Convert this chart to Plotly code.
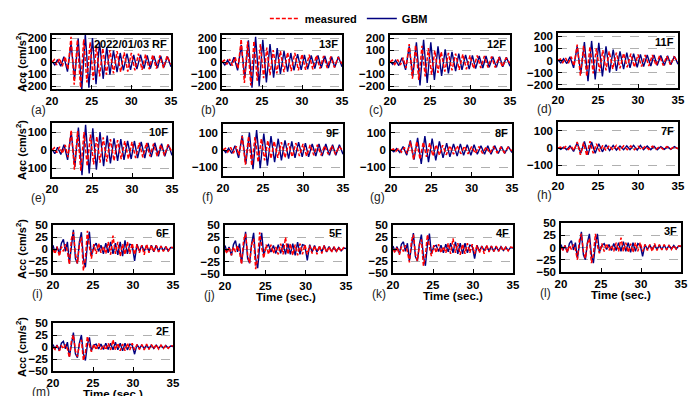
import plotly.graph_objects as go

# ---------------- data ----------------
# time vertices for upper floors
t_gbm = [20.0, 20.35, 20.7, 21.1, 21.5, 21.95, 22.4, 22.85, 23.3, 23.75, 24.2, 24.65,
         25.1, 25.55, 26.0, 26.45, 26.9, 27.3, 27.75, 28.2, 28.6, 29.0, 29.45, 29.9,
         30.3, 30.7, 31.15, 31.6, 32.0, 32.4, 32.85, 33.3, 33.7, 34.1, 34.55, 35.0]
t_meas = [20.0, 20.3, 20.6, 20.95, 21.3, 21.65, 22.0, 22.4, 22.8, 23.2, 23.6, 24.0,
          24.4, 24.8, 25.2, 25.6, 26.0, 26.4, 26.85, 27.3, 27.75, 28.2, 28.65, 29.1,
          29.55, 30.0, 30.45, 30.9, 31.35, 31.8, 32.25, 32.7, 33.15, 33.6, 34.05, 34.5, 35.0]
# time vertices for lower floors
t_low = [20.0, 20.25, 20.5, 20.8, 21.05, 21.3, 21.55, 21.8, 22.05, 22.3, 22.55, 22.8,
         23.05, 23.3, 23.55, 23.8, 24.05, 24.3, 24.55, 24.8, 25.1, 25.4, 25.7, 26.0,
         26.3, 26.6, 26.9, 27.2, 27.5, 27.8, 28.1, 28.4, 28.7, 29.0, 29.3, 29.6, 29.9,
         30.2, 30.5, 30.8, 31.1, 31.4, 31.7, 32.0, 32.3, 32.6, 32.9, 33.2, 33.5, 33.8,
         34.1, 34.4, 34.7, 35.0]

gbm_RF = [5, -25, 20, -35, 45, -80, 150, -140, 195, -235, 230, -215, 200, -185, 165, -140, 125, -105,
          95, -85, 75, -70, 70, -65, 60, -60, 60, -55, 55, -55, 50, -50, 50, -45, 45, -40]
gbm_13F = [5, -25, 15, -30, 40, -70, 140, -130, 180, -215, 210, -200, 185, -170, 150, -130, 115, -100,
           90, -80, 75, -70, 65, -65, 60, -60, 55, -55, 55, -50, 50, -50, 45, -45, 45, -40]
gbm_12F = [5, -20, 15, -30, 35, -65, 130, -120, 165, -195, 185, -175, 165, -150, 130, -115, 105, -95,
           85, -75, 70, -65, 60, -60, 55, -55, 50, -50, 50, -45, 45, -45, 45, -40, 40, -35]
gbm_11F = [5, -20, 15, -25, 30, -60, 115, -110, 150, -170, 160, -155, 145, -130, 115, -100, 90, -85,
           75, -70, 65, -60, 55, -55, 50, -50, 45, -45, 45, -40, 40, -40, 40, -35, 35, -30]
gbm_10F = [5, -20, 15, -25, 30, -55, 100, -95, 125, -140, 140, -130, 120, -110, 100, -90, 80, -75,
           65, -60, 60, -55, 50, -50, 50, -45, 45, -45, 40, -40, 40, -35, 35, -35, 30, -30]
gbm_9F = [5, -15, 10, -20, 25, -45, 85, -80, 100, -110, 115, -105, 95, -90, 80, -70, 65, -60,
          55, -50, 50, -45, 45, -40, 40, -40, 35, -35, 35, -35, 35, -30, 30, -30, 30, -25]
gbm_8F = [3, -10, 8, -15, 20, -30, 55, -55, 70, -80, 80, -70, 65, -60, 50, -45, 40, -40,
          35, -35, 35, -30, 30, -30, 30, -25, 25, -25, 25, -25, 25, -20, 20, -20, 20, -15]
gbm_7F = [3, -8, 5, -10, 12, -20, 30, -30, 38, -40, 35, -30, 25, -22, 18, -15, 15, -12,
          12, -10, 12, -10, 15, -12, 15, -10, 12, -10, 10, -10, 8, -8, 8, -8, 8, -5]

meas_RF = [0, 20, -25, 30, -35, 45, -60, 210, -190, 185, -215, 190, -170, 165, -150, 135, -120, 115,
           -105, 100, -95, 90, -85, 80, -80, 75, -70, 70, -65, 65, -60, 60, -55, 55, -50, 50, -20]
meas_13F = [0, 15, -20, 25, -30, 40, -55, 190, -175, 170, -195, 175, -155, 150, -135, 120, -110, 100,
            -95, 90, -85, 80, -75, 75, -70, 65, -65, 60, -60, 55, -55, 50, -50, 45, -45, 40, -15]
meas_12F = [0, 15, -20, 20, -25, 35, -50, 150, -140, 140, -150, 135, -120, 115, -105, 95, -90, 85,
            -80, 75, -70, 70, -65, 65, -60, 55, -55, 55, -50, 50, -45, 45, -45, 40, -40, 35, -10]
meas_11F = [0, 12, -18, 20, -22, 30, -45, 130, -125, 120, -130, 115, -105, 100, -90, 85, -80, 75,
            -70, 65, -65, 60, -55, 55, -55, 50, -50, 45, -45, 45, -40, 40, -40, 35, -35, 30, -10]
meas_10F = [0, 12, -15, 18, -20, 28, -40, 110, -110, 105, -115, 100, -90, 85, -80, 75, -70, 70,
            -65, 60, -60, 55, -50, 50, -50, 45, -45, 40, -40, 40, -35, 35, -35, 30, -30, 30, -10]
meas_9F = [0, 10, -12, 15, -18, 22, -30, 80, -85, 80, -90, 75, -70, 65, -60, 55, -50, 50,
           -45, 45, -45, 40, -40, 40, -35, 35, -35, 30, -30, 30, -30, 25, -25, 25, -25, 20, -5]
meas_8F = [0, 6, -8, 10, -12, 15, -20, 50, -55, 50, -55, 45, -40, 40, -35, 30, -30, 28,
           -28, 25, -25, 25, -22, 22, -22, 20, -20, 20, -20, 18, -18, 18, -15, 15, -15, 15, -5]
meas_7F = [0, 5, -5, 8, -8, 10, -15, 35, -40, 30, -45, 40, -30, 25, -20, 15, -15, 15,
           -12, 15, -12, 12, -10, 12, -10, 10, -10, 10, -8, 10, -8, 8, -8, 8, -6, 6, -3]

gbm_6F = [8, -8, 5, -10, 12, 20, -5, 15, -30, 10, 40, -20, -30, 15, 35, -20, -38, 10, 36, -15,
          5, 12, -5, 8, -10, 12, -8, 15, -10, 12, -12, 15, -15, 18, -10, 10, 8, -25, 10, -5,
          8, -5, 8, -5, 8, -6, 8, -5, 6, -4, 5, -4, 3, 2]
gbm_5F = [8, -5, 5, -12, 10, 18, -5, 12, -28, 8, 36, -18, -28, 12, 34, -18, -38, 8, 34, -12,
          5, 10, -5, 8, -8, 10, -8, 12, -10, 12, -10, 12, -12, 15, -10, 10, 8, -22, 10, -5,
          8, -5, 6, -5, 8, -5, 6, -4, 5, -4, 4, -3, 3, 2]
gbm_4F = [6, -5, 5, -10, 10, 15, -5, 12, -25, 8, 33, -16, -25, 10, 30, -15, -35, 8, 32, -10,
          5, 8, -5, 8, -8, 10, -6, 12, -8, 15, -10, 12, -10, 12, -8, 8, 6, -20, 8, -5,
          6, -4, 6, -4, 6, -5, 5, -4, 5, -3, 4, -3, 3, 2]
gbm_3F = [6, -5, 4, -10, 8, 14, -5, 10, -22, 8, 32, -15, -25, 10, 28, -15, -32, 6, 28, -10,
          4, 8, -4, 6, -6, 8, -6, 10, -8, 12, -8, 10, -10, 10, -8, 8, 5, -18, 6, -4,
          5, -4, 5, -4, 5, -4, 5, -4, 4, -3, 4, -3, 3, 2]
gbm_2F = [5, -4, 4, -8, 8, 12, -4, 10, -20, 6, 30, -14, -22, 8, 25, -14, -28, 5, 20, -8,
          4, 6, -4, 6, -5, 8, -5, 8, -6, 10, -6, 8, -8, 8, -6, 6, 4, -15, 5, -3,
          4, -3, 4, -3, 4, -3, 4, -3, 3, -2, 3, -2, 2, 1]

meas_6F = [0, -10, 5, -15, 5, -5, 10, -5, -32, 20, 35, -10, -30, 10, 25, -45, -20, 38, 5, -20,
           10, -10, 12, -8, 5, -10, 15, -12, 28, -10, 15, -15, 10, -12, 15, -10, 12, -12, 10, -8,
           8, -12, 10, -8, 8, -6, 8, -6, 6, -5, 5, -5, 4, 3]
meas_5F = [0, -8, 5, -12, 5, -5, 8, -5, -30, 18, 32, -10, -28, 10, 22, -40, -18, 35, 5, -18,
           10, -10, 10, -8, 5, -10, 12, -10, 25, -10, 12, -12, 10, -12, 12, -10, 10, -10, 8, -8,
           8, -10, 8, -8, 8, -6, 6, -6, 6, -5, 5, -4, 4, 3]
meas_4F = [0, -8, 4, -12, 5, -5, 8, -5, -28, 16, 30, -10, -25, 8, 20, -35, -15, 30, 5, -15,
           8, -8, 10, -8, 5, -8, 12, -10, 22, -8, 12, -12, 10, -10, 12, -8, 10, -10, 8, -8,
           6, -10, 8, -6, 6, -5, 6, -5, 5, -4, 4, -4, 4, 3]
meas_3F = [0, -6, 4, -10, 4, -4, 6, -4, -25, 15, 28, -8, -22, 8, 18, -32, -15, 28, 4, -12,
           8, -8, 8, -6, 4, -8, 10, -8, 20, -8, 10, -10, 8, -10, 10, -8, 10, -8, 6, -6,
           6, -8, 8, -6, 6, -5, 6, -5, 5, -4, 4, -3, 3, 3]
meas_2F = [0, -5, 3, -8, 3, -4, 5, -4, -22, 12, 25, -8, -20, 6, 15, -28, -12, 22, 4, -10,
           6, -6, 8, -5, 4, -6, 8, -6, 15, -6, 8, -8, 6, -8, 8, -6, 8, -6, 5, -5,
           5, -6, 6, -5, 5, -4, 5, -4, 4, -3, 3, -3, 3, 2]

panel_letters = ["(a)", "(b)", "(c)", "(d)", "(e)", "(f)", "(g)", "(h)", "(i)", "(j)", "(k)", "(l)", "(m)"]
floor_names = ["2022/01/03 RF", "13F", "12F", "11F", "10F", "9F", "8F", "7F", "6F", "5F", "4F", "3F", "2F"]
x_ticks = [20, 25, 30, 35]
y_ticks_top = [-200, -100, 0, 100, 200]
y_ticks_mid = [-100, 0, 100]
y_ticks_low = [-50, -25, 0, 25, 50]

series = [
    (t_meas, meas_RF, t_gbm, gbm_RF), (t_meas, meas_13F, t_gbm, gbm_13F),
    (t_meas, meas_12F, t_gbm, gbm_12F), (t_meas, meas_11F, t_gbm, gbm_11F),
    (t_meas, meas_10F, t_gbm, gbm_10F), (t_meas, meas_9F, t_gbm, gbm_9F),
    (t_meas, meas_8F, t_gbm, gbm_8F), (t_meas, meas_7F, t_gbm, gbm_7F),
    (t_low, meas_6F, t_low, gbm_6F), (t_low, meas_5F, t_low, gbm_5F),
    (t_low, meas_4F, t_low, gbm_4F), (t_low, meas_3F, t_low, gbm_3F),
    (t_low, meas_2F, t_low, gbm_2F),
]

# ---------------- layout geometry (pixels) ----------------
W, H = 697, 396
boxes = [  # left, right, top, bottom
    (52, 171, 35, 89), (222, 342, 35, 89), (390, 510, 35, 89), (558, 678, 33, 88),
    (52, 172, 123, 177), (223, 343, 124, 176), (391, 512, 124, 176), (558, 678, 122, 174),
    (53, 173, 225, 273), (225, 346, 225, 274), (393, 513, 225, 273), (561, 681, 223, 272),
    (53, 173, 323, 371),
]
xtitle_panels = {9, 10, 11, 12}
ylabel_panels = {0, 4, 8, 12}

FONT = "Liberation Sans, Arial, sans-serif"
RED = "#ff0000"
NAVY = "#000080"

fig = go.Figure()
layout = dict(
    width=W, height=H, margin=dict(l=0, r=0, t=0, b=0, pad=0, autoexpand=False),
    paper_bgcolor="white", plot_bgcolor="white",
    font=dict(family=FONT, color="black"),
    showlegend=True,
    legend=dict(orientation="h", x=0.38, y=0.99, xanchor="left", yanchor="top",
                font=dict(family=FONT, size=11, weight="bold"),
                itemwidth=30, bgcolor="rgba(0,0,0,0)", tracegroupgap=0),
)
annotations = []

for i, (tm, ym, tg, yg) in enumerate(series):
    n = i + 1
    xa = "x" if n == 1 else f"x{n}"
    ya = "y" if n == 1 else f"y{n}"
    l, r, t, b = boxes[i]
    if i < 4:
        yr, yt = [-225, 225], y_ticks_top
    elif i < 8:
        yr, yt = [-150, 150], y_ticks_mid
    else:
        yr, yt = [-50, 50], y_ticks_low
    fig.add_trace(go.Scatter(x=tg, y=yg, mode="lines", line=dict(color=NAVY, width=1.4),
                             name="GBM", legendrank=2, showlegend=(i == 0), xaxis=xa, yaxis=ya))
    fig.add_trace(go.Scatter(x=tm, y=ym, mode="lines",
                             line=dict(color=RED, width=1.5, dash="4px,2px"),
                             name="measured", legendrank=1, showlegend=(i == 0), xaxis=xa, yaxis=ya))
    axcommon = dict(showline=True, linecolor="black", linewidth=1.5, mirror=True,
                    ticks="inside", ticklen=4, tickwidth=1.2, tickcolor="black",
                    zeroline=False,
                    tickfont=dict(family=FONT, size=11.5, weight="bold", color="black"))
    layout["xaxis" if n == 1 else f"xaxis{n}"] = dict(
        domain=[l / W, r / W], anchor=ya, range=[20, 35], tickvals=x_ticks,
        showgrid=False, ticklabelstandoff=0, **axcommon)
    layout["yaxis" if n == 1 else f"yaxis{n}"] = dict(
        domain=[1 - b / H, 1 - t / H], anchor=xa, range=yr, tickvals=yt,
        showgrid=True, gridcolor="#b0b0b0", griddash="dash", gridwidth=1,
        ticklabelstandoff=1, **axcommon)
    # floor label
    annotations.append(dict(text=floor_names[i], xref=f"{xa} domain", yref=f"{ya} domain",
                            x=0.985, y=0.99, xanchor="right", yanchor="top", showarrow=False,
                            font=dict(family=FONT, size=11, weight="bold", color="black")))
    # panel letter
    annotations.append(dict(text=panel_letters[i], xref="paper", yref="paper",
                            x=(l - 23) / W, y=1 - (b + 21) / H, xanchor="left", yanchor="middle",
                            showarrow=False, font=dict(family=FONT, size=12, color="#222222")))
    if i in xtitle_panels:
        annotations.append(dict(text="Time (sec.)", xref="paper", yref="paper",
                                x=(l + r) / 2 / W, y=1 - (b + 23) / H, xanchor="center",
                                yanchor="middle", showarrow=False,
                                font=dict(family=FONT, size=11.5, weight="bold", color="black")))
    if i in ylabel_panels:
        annotations.append(dict(text="Acc (cm/s<sup>2</sup>)", xref="paper", yref="paper",
                                x=21 / W, y=1 - (t + b) / 2 / H, xanchor="center",
                                yanchor="middle", textangle=-90, showarrow=False,
                                font=dict(family=FONT, size=11, weight="bold", color="black")))

layout["annotations"] = annotations
fig.update_layout(**layout)
fig.write_html("out.html", config={"displayModeBar": False},
               post_script="document.body.style.margin='0px';")
